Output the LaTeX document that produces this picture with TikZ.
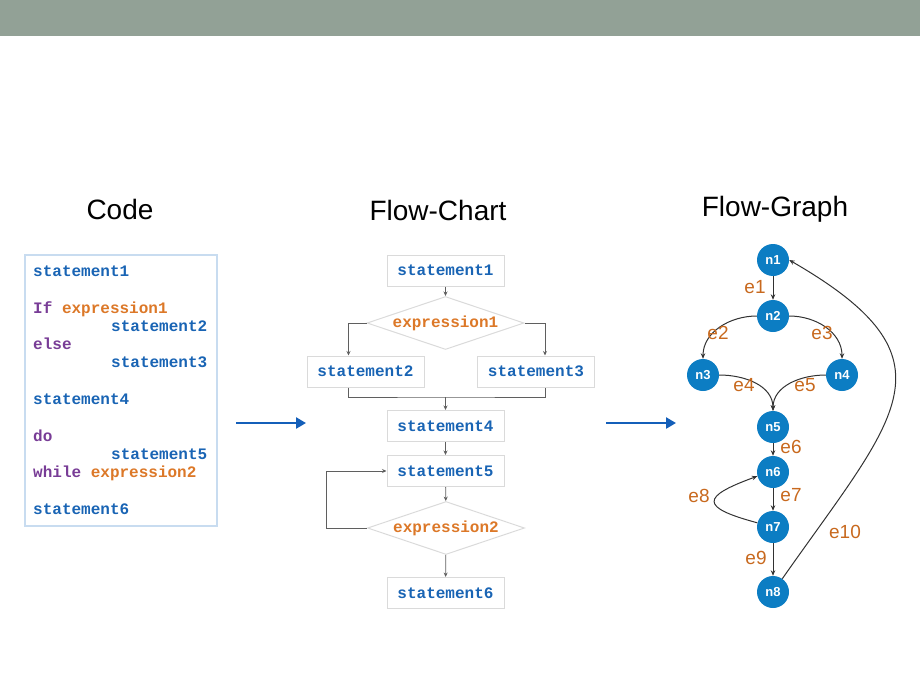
\documentclass[tikz,border=0pt]{standalone}
\usepackage{fontspec}
\setmainfont{Liberation Sans}
\setmonofont{Liberation Mono}
\usetikzlibrary{arrows.meta,shapes.geometric,positioning}

\definecolor{bandgray}{RGB}{146,161,150}
\definecolor{stblue}{RGB}{25,100,180}
\definecolor{kwpurple}{RGB}{120,60,150}
\definecolor{exorange}{RGB}{220,120,40}
\definecolor{lblorange}{RGB}{200,105,30}
\definecolor{nodeblue}{RGB}{12,125,195}
\definecolor{arrowblue}{RGB}{20,95,185}
\definecolor{boxgray}{RGB}{218,218,218}
\definecolor{codeframe}{RGB}{200,220,240}

\tikzset{
  title/.style={anchor=base,font=\fontsize{28}{30}\selectfont},
  codeline/.style={anchor=base west,inner sep=0pt,font=\ttfamily\bfseries\fontsize{16}{18}\selectfont},
  stbox/.style={draw=boxgray,line width=1pt,minimum width=117pt,minimum height=31pt,inner sep=0pt,
    text=stblue,font=\ttfamily\bfseries\fontsize{16}{18}\selectfont},
  decide/.style={diamond,aspect=2.96,draw=boxgray,line width=1pt,minimum width=157pt,minimum height=53pt,inner sep=0pt,
    text=exorange,font=\ttfamily\bfseries\fontsize{16}{18}\selectfont},
  fcline/.style={draw={rgb,255:red,95;green,95;blue,95},line width=0.8pt,-{Stealth[length=4.5pt,width=4pt]}},
  fcplain/.style={draw={rgb,255:red,95;green,95;blue,95},line width=0.8pt},
  vertex/.style={circle,fill=nodeblue,minimum size=32pt,inner sep=0pt,text=white,
    font=\bfseries\fontsize{13}{13}\selectfont},
  gedge/.style={draw={rgb,255:red,50;green,50;blue,50},line width=1pt,-{Stealth[length=5.5pt,width=4.5pt]}},
  elabel/.style={text=lblorange,inner sep=0pt,font=\fontsize{19}{19}\selectfont},
  bigarrow/.style={arrowblue,line width=2.5pt,-{Triangle[length=10pt,width=11pt]}}
}

\begin{document}
\begin{tikzpicture}[x=1pt,y=1pt]

\useasboundingbox (0,0) rectangle (920,-690);

% Header band
\fill[bandgray] (0,0) rectangle (920,-36);

% Titles
\node[title] (tcode) at (120,-219) {Code};
\node[title] (tchart) at (438,-220) {Flow-Chart};
\node[title] (tgraph) at (775,-216) {Flow-Graph};

% Code
\draw[codeframe,line width=1.2pt] (25,-255) rectangle (217,-526);
\node[codeline,text=stblue] (c1) at (33,-276) {statement1};
\node[codeline] (c2) at (33,-313) {\textcolor{kwpurple}{If} \textcolor{exorange}{expression1}};
\node[codeline,text=stblue] (c3) at (111,-331) {statement2};
\node[codeline,text=kwpurple] (c4) at (33,-349) {else};
\node[codeline,text=stblue] (c5) at (111,-367) {statement3};
\node[codeline,text=stblue] (c6) at (33,-404) {statement4};
\node[codeline,text=kwpurple] (c7) at (33,-441) {do};
\node[codeline,text=stblue] (c8) at (111,-459) {statement5};
\node[codeline] (c9) at (33,-477) {\textcolor{kwpurple}{while} \textcolor{exorange}{expression2}};
\node[codeline,text=stblue] (c10) at (33,-514) {statement6};

% Flow-Chart
\node[stbox] (s1) at (445.5,-270.5) {statement1};
\node[decide] (d1) at (445.5,-323) {expression1};
\node[stbox] (s2) at (365.5,-371.5) {statement2};
\node[stbox] (s3) at (536,-371.5) {statement3};
\coordinate (mrg) at (445.5,-397);
\node[stbox] (s4) at (445.5,-426) {statement4};
\node[stbox] (s5) at (445.5,-471) {statement5};
\node[decide] (d2) at (446,-528) {expression2};
\node[stbox] (s6) at (445.5,-593) {statement6};

\draw[fcline] (s1) -- (d1);
\draw[fcline] (d1.west) -| ([xshift=-17pt]s2.north);
\draw[fcline] (d1.east) -| ([xshift=9pt]s3.north);
\draw[fcplain] ([xshift=-17pt]s2.south) |- (mrg) -| ([xshift=9pt]s3.south);
\draw[fcline] (mrg) -- (s4);
\draw[fcline] (s4) -- (s5);
\draw[fcline] (s5) -- (d2);
\draw[fcline] (d2) -- (s6);
\draw[fcline] (d2.west) -- ++(-41,0) |- (s5.west);

% Arrows between panels
\coordinate (a1) at (236,-423);
\coordinate (a2) at (306,-423);
\coordinate (b1) at (606,-423);
\coordinate (b2) at (676,-423);
\draw[bigarrow] (a1) -- (a2);
\draw[bigarrow] (b1) -- (b2);

% Flow-Graph
\node[vertex] (n1) at (773,-260) {n1};
\node[vertex] (n2) at (773,-316) {n2};
\node[vertex] (n3) at (703,-375) {n3};
\node[vertex] (n4) at (842,-375) {n4};
\node[vertex] (n5) at (773,-427) {n5};
\node[vertex] (n6) at (773,-472) {n6};
\node[vertex] (n7) at (773,-527) {n7};
\node[vertex] (n8) at (773,-592) {n8};

\draw[gedge] (n1) -- (n2);
\draw[gedge] (n2.west) to[out=180,in=90] (n3.north);
\draw[gedge] (n2.east) to[out=0,in=90] (n4.north);
\draw[gedge] (n3.east) to[out=0,in=90] (n5.north);
\draw[gedge] (n4.west) to[out=180,in=90] (n5.north);
\draw[gedge] (n5) -- (n6);
\draw[gedge] (n6) -- (n7);
\draw[gedge] (n7.165) to[out=165,in=200,looseness=3.3] (n6.195);
\draw[gedge] (n7) -- (n8);
\draw[gedge] (n8.55) to[out=55,in=-30,looseness=1.6] (n1.east);

% Edge labels
\node[elabel] (e1) at (755,-287) {e1};
\node[elabel] (e2) at (718,-333) {e2};
\node[elabel] (e3) at (822,-333) {e3};
\node[elabel] (e4) at (744,-385) {e4};
\node[elabel] (e5) at (805,-385) {e5};
\node[elabel] (e6) at (791,-447) {e6};
\node[elabel] (e7) at (791,-495) {e7};
\node[elabel] (e8) at (699,-496) {e8};
\node[elabel] (e9) at (756,-558) {e9};
\node[elabel] (e10) at (845,-532) {e10};

\end{tikzpicture}
\end{document}
